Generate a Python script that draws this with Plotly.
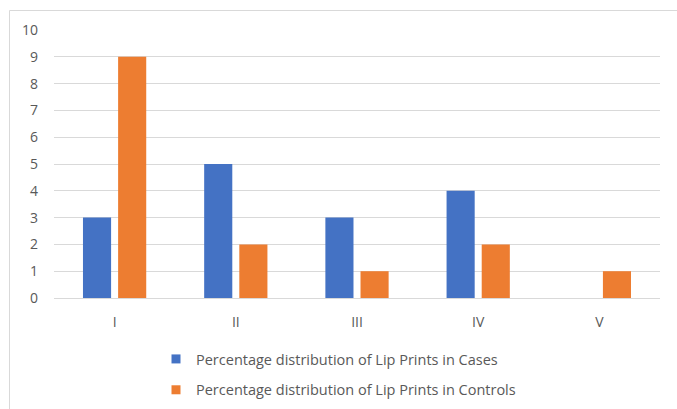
import plotly.graph_objects as go

categories = ["I", "II", "III", "IV", "V"]
cases = [3, 5, 3, 4, 0]
controls = [9, 2, 1, 2, 1]
y_ticks = list(range(0, 11))
series_names = [
    "Percentage distribution of Lip Prints in Cases",
    "Percentage distribution of Lip Prints in Controls",
]

BLUE = "#4472C4"
ORANGE = "#ED7D31"
GREY_TEXT = "#595959"
GRID = "#D9D9D9"
FONT = "Open Sans"

# plot area in pixels (677x409 canvas)
L, R, T, B = 54, 17, 30, 111
W, H = 677 - L - R, 409 - T - B

fig = go.Figure()
for vals, name, color, grp in [(cases, series_names[0], BLUE, "a"),
                               (controls, series_names[1], ORANGE, "b")]:
    fig.add_trace(go.Bar(
        x=categories, y=vals, name=name, legendgroup=grp, showlegend=False,
        marker=dict(color=color, line=dict(width=0)),
    ))
    # small square legend key for the series
    fig.add_trace(go.Scatter(
        x=[None], y=[None], mode="markers", name=name, legendgroup=grp,
        marker=dict(symbol="square", size=9, color=color),
    ))

def px_to_paper_x(px):
    return (px - L) / W

def px_to_paper_y(py):
    return (409 - B - py) / H

fig.update_layout(
    width=677, height=409,
    margin=dict(l=L, r=R, t=T, b=B, autoexpand=False),
    paper_bgcolor="white", plot_bgcolor="white",
    barmode="group", bargap=0.42, bargroupgap=0.2,
    font=dict(family=FONT, size=14, color=GREY_TEXT),
    showlegend=True,
    legend=dict(
        orientation="v", x=px_to_paper_x(156), xanchor="left",
        y=px_to_paper_y(343), yanchor="top",
        font=dict(family=FONT, size=14.5, color=GREY_TEXT),
        tracegroupgap=9, bgcolor="rgba(0,0,0,0)",
    ),
    xaxis=dict(
        showgrid=False, showline=True, linecolor=GRID, linewidth=1,
        ticks="", ticklabelstandoff=11, fixedrange=True,
    ),
    yaxis=dict(
        range=[0, 10], tickvals=y_ticks, showgrid=True, gridcolor=GRID, gridwidth=1,
        zeroline=False, showline=False, ticks="", ticklabelstandoff=15,
    ),
    shapes=[dict(
        type="rect", xref="paper", yref="paper",
        x0=px_to_paper_x(9.5), x1=px_to_paper_x(682),
        y0=px_to_paper_y(414), y1=px_to_paper_y(10.5),
        line=dict(color="#D9D9D9", width=1), fillcolor="rgba(0,0,0,0)", layer="below",
    )],
)

fig.write_html("out.html")
